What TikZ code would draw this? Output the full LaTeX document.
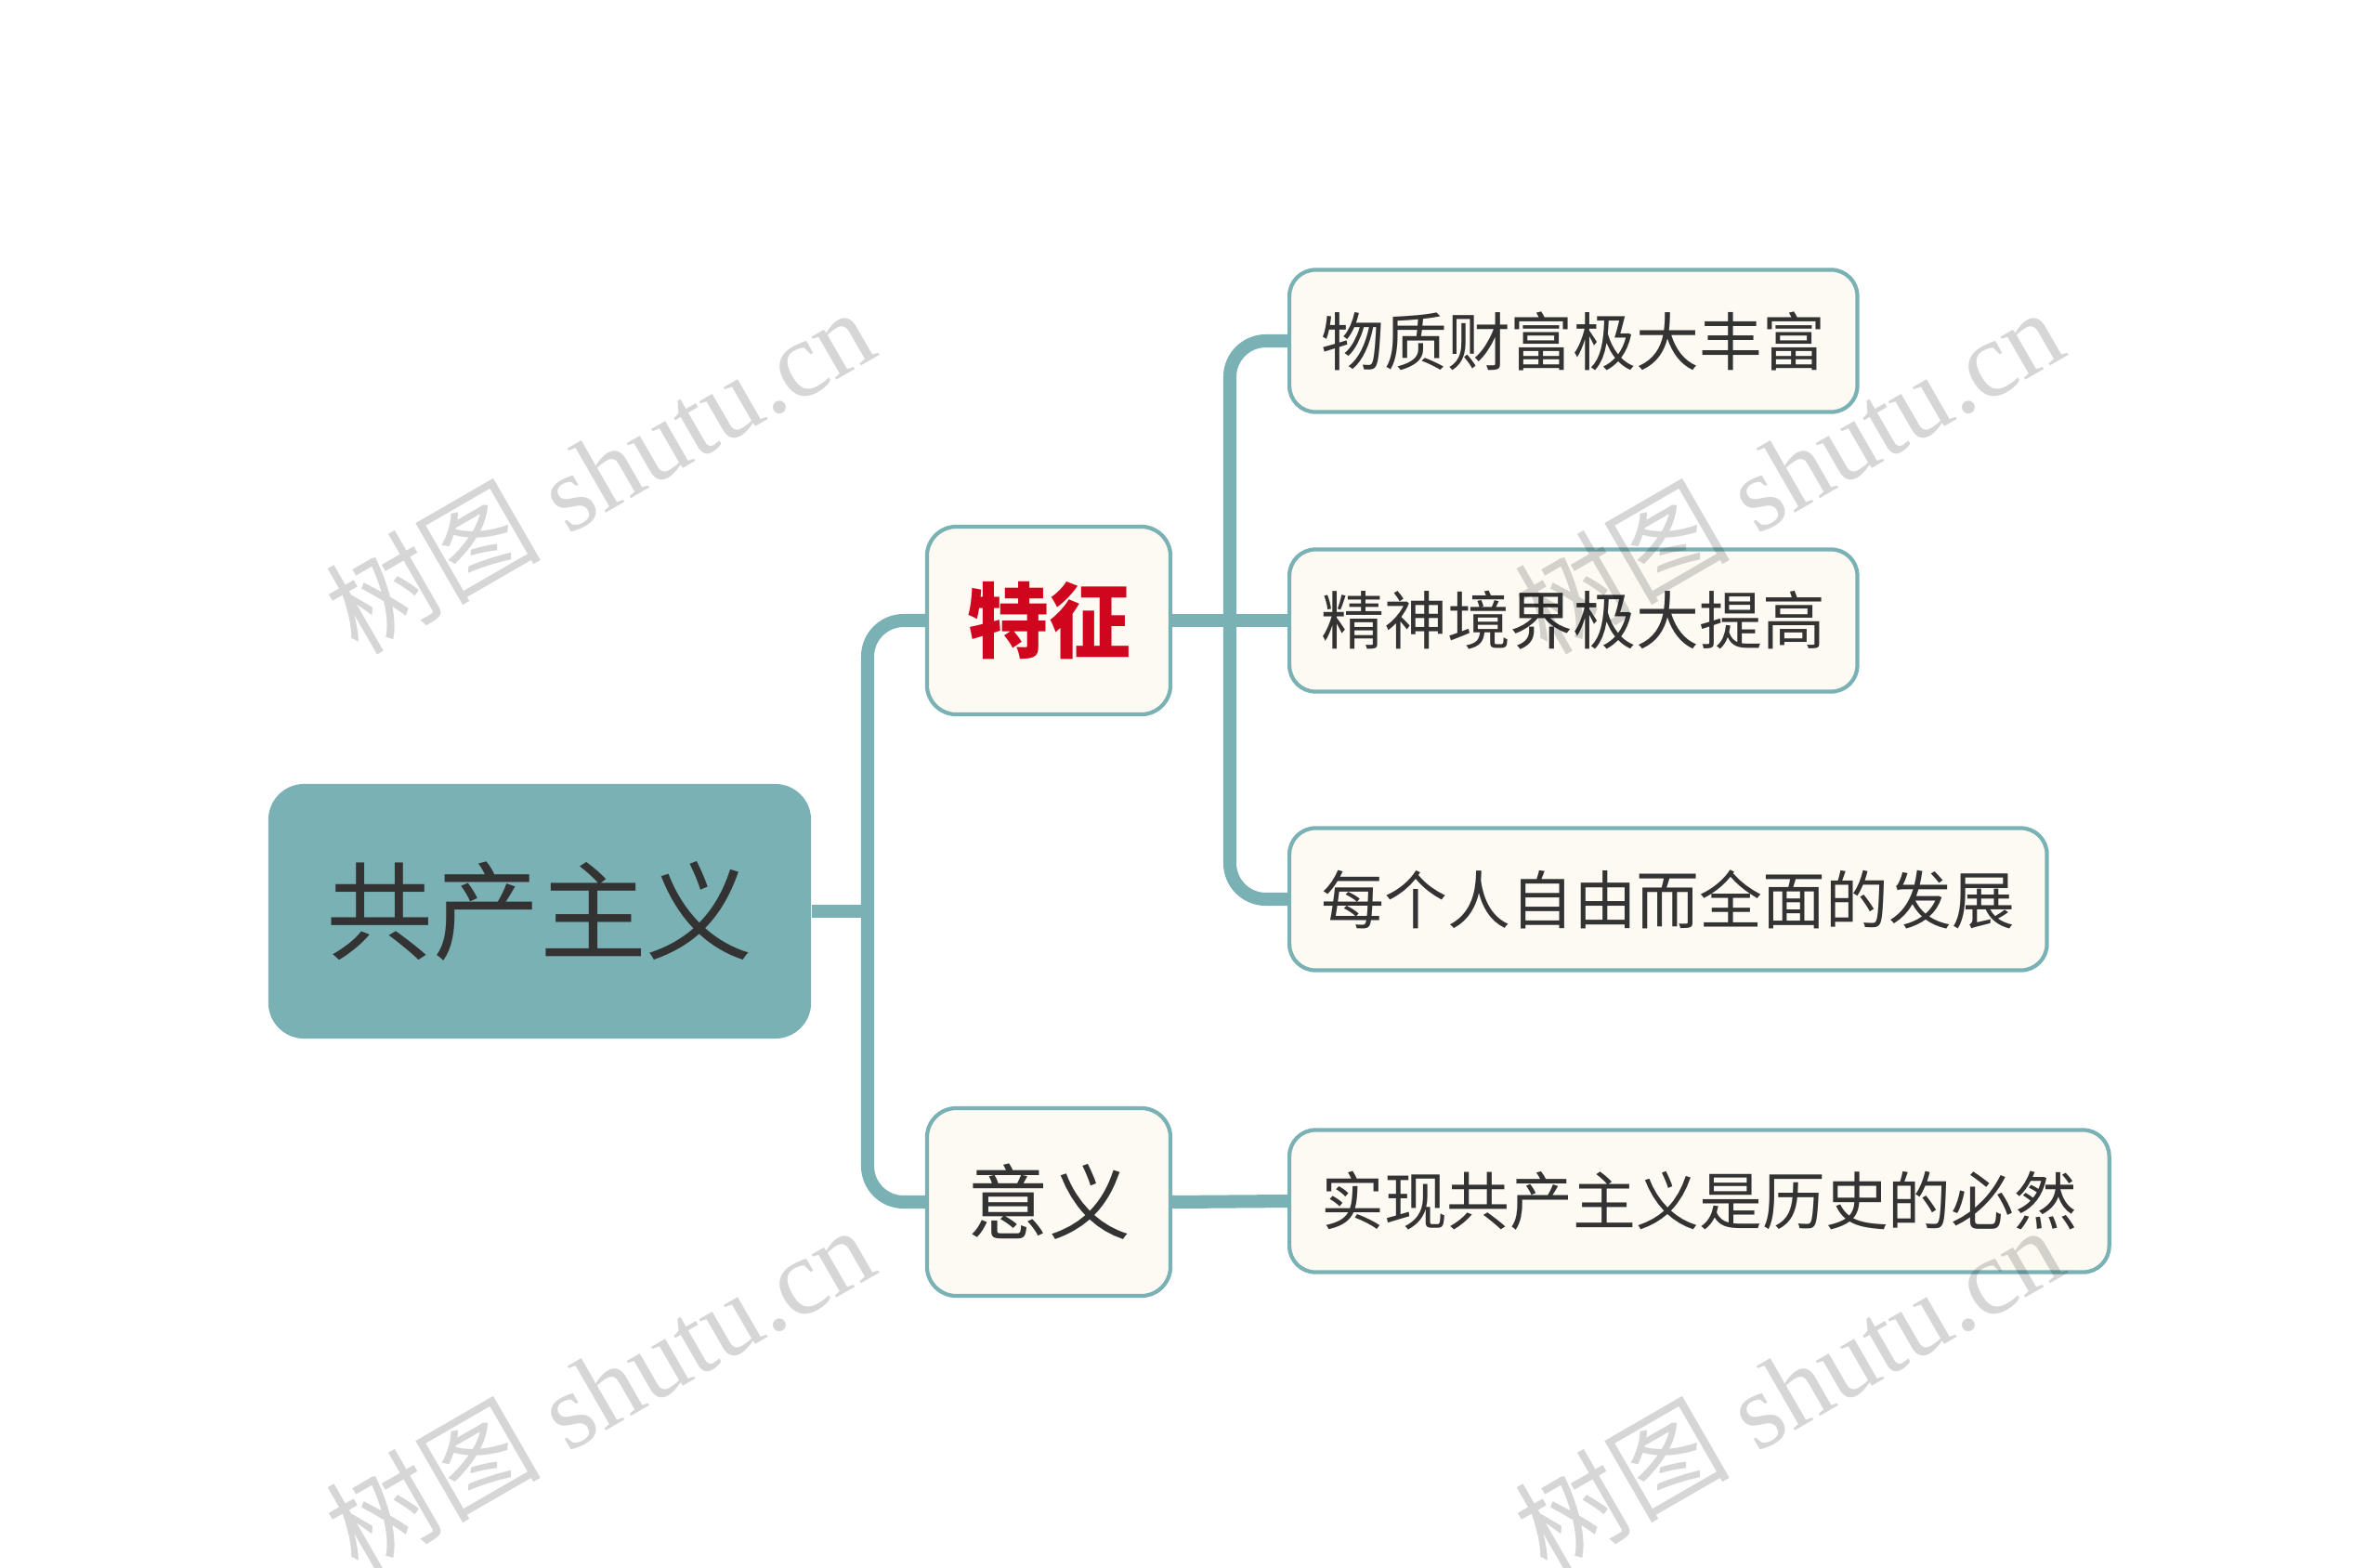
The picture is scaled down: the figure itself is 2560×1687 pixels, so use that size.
\documentclass[tikz,border=0pt]{standalone}
\usepackage{fontspec}
\newfontfamily\cjk{Noto Sans CJK SC}
\newfontfamily\wmfont{Liberation Serif}
\definecolor{mapteal}{HTML}{7AB1B5}
\definecolor{cream}{HTML}{FCFAF2}
\definecolor{ink}{HTML}{333333}
\definecolor{keyred}{HTML}{D0051E}

\begin{document}
\begin{tikzpicture}[x=0.01cm,y=-0.01cm,
  link/.style={draw=mapteal,line width=4pt,rounded corners=11pt},
  rootbox/.style={fill=mapteal,rounded corners=11pt,text=ink,
    minimum width=5.84cm,minimum height=2.74cm,
    font=\cjk\fontsize{32.7pt}{36pt}\selectfont},
  topic/.style={draw=mapteal,line width=1.2pt,fill=cream,rounded corners=9pt,
    text=ink,minimum width=2.62cm,minimum height=2.02cm,
    font=\cjk\fontsize{25pt}{28pt}\selectfont},
  sub/.style={draw=mapteal,line width=1.2pt,fill=cream,rounded corners=8pt,
    text=ink,anchor=west,minimum height=1.53cm,
    font=\cjk\fontsize{19.3pt}{22pt}\selectfont},
  watermark/.style={rotate=30,text=black,text opacity=0.16,
    font=\wmfont\fontsize{33pt}{38pt}\selectfont}]
  \useasboundingbox (0,0) rectangle (2560,1687);

  \node[rootbox] (root) at (581,981) {共产主义};
  \node[topic,text=keyred,font=\cjk\bfseries\fontsize{25pt}{28pt}\selectfont]
    (tezheng) at (1129,668) {特征};
  \node[topic] (yiyi) at (1129,1294) {意义};

  \node[sub,minimum width=6.11cm] (wuzhi) at (1386,367) {物质财富极大丰富};
  \node[sub,minimum width=6.11cm] (jingshen) at (1386,668) {精神境界极大提高};
  \node[sub,minimum width=8.15cm] (fazhan) at (1386,968) {每个人自由而全面的发展};
  \node[sub,minimum width=8.82cm] (biran) at (1386,1293) {实现共产主义是历史的必然};

  \coordinate (j1) at (934,981);
  \coordinate (j2) at (1324,668);

  \draw[link] (root.east) -- (j1);
  \draw[link] (tezheng.west) -| (j1) |- (yiyi.west);
  \draw[link] (tezheng.east) -- (jingshen.west);
  \draw[link] (wuzhi.west) -| (j2) |- (fazhan.west);
  \draw[link] (yiyi.east) -- (biran.west);

  \foreach \p [count=\i] in {(645,506),(1925,506),(645,1494),(1925,1494)}
  {
    \node[watermark] (wm\i) at \p {{\cjk 树图} shutu.cn};
  }
\end{tikzpicture}
\end{document}
